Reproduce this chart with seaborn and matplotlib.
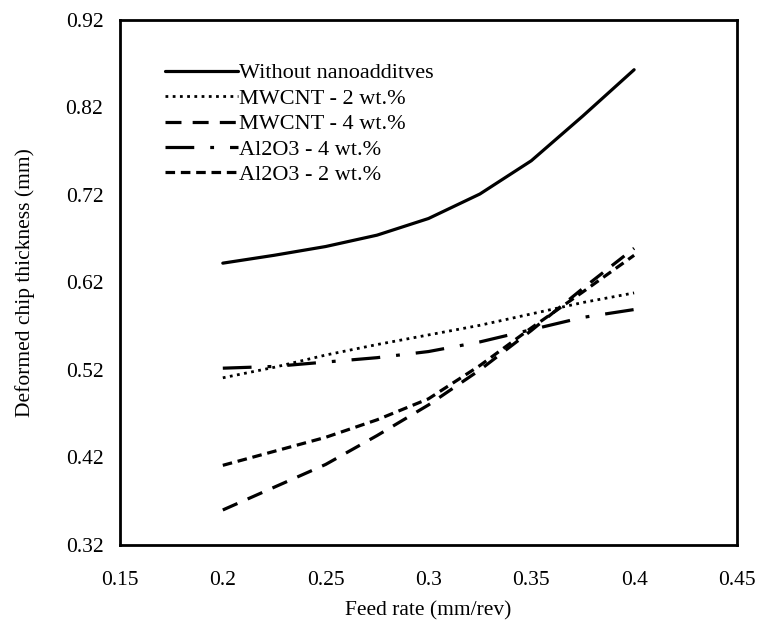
import matplotlib
matplotlib.use("Agg")
import matplotlib.pyplot as plt
import seaborn as sns

sns.set_theme(style="white")
plt.rcParams['font.family'] = ['Liberation Serif', 'DejaVu Serif']

feed = [0.2, 0.225, 0.25, 0.275, 0.3, 0.325, 0.35, 0.375, 0.4]
without = [0.642, 0.651, 0.661, 0.674, 0.693, 0.721, 0.759, 0.810, 0.863]
mwcnt2 = [0.511, 0.523, 0.537, 0.549, 0.560, 0.571, 0.584, 0.597, 0.608]
mwcnt4 = [0.360, 0.386, 0.412, 0.445, 0.480, 0.520, 0.565, 0.613, 0.659]
al2o3_4 = [0.522, 0.524, 0.529, 0.534, 0.541, 0.552, 0.566, 0.580, 0.589]
al2o3_2 = [0.411, 0.427, 0.443, 0.463, 0.487, 0.525, 0.568, 0.609, 0.651]

labels = ["Without nanoadditves", "MWCNT - 2 wt.%", "MWCNT - 4 wt.%",
          "Al2O3 - 4 wt.%", "Al2O3 - 2 wt.%"]

fig = plt.figure(figsize=(7.57, 6.2), dpi=100)
ax = fig.add_axes([0.1585, 0.121, 0.815, 0.847])

series = [
    (without, '-', 2.3),
    (mwcnt2, (0, (1, 1.6)), 2.0),
    (mwcnt4, (0, (5, 3.5)), 2.3),
    (al2o3_4, (0, (9, 5, 1.2, 5)), 2.3),
    (al2o3_2, (0, (3, 1.8)), 2.3),
]
for (ys, ls, lw), lab in zip(series, labels):
    sns.lineplot(x=feed, y=ys, ax=ax, color='black', linestyle=ls, linewidth=lw,
                 label=lab, sort=False)

ax.set_xlim(0.15, 0.45)
ax.set_ylim(0.32, 0.92)
ax.set_xticks([0.15, 0.2, 0.25, 0.3, 0.35, 0.4, 0.45])
ax.set_xticklabels(["0.15", "0.2", "0.25", "0.3", "0.35", "0.4", "0.45"])
ax.set_yticks([0.32, 0.42, 0.52, 0.62, 0.72, 0.82, 0.92])
ax.set_yticklabels(["0.32", "0.42", "0.52", "0.62", "0.72", "0.82", "0.92"])
ax.tick_params(direction='in', length=5, width=1.5, labelsize=15.5,
               colors='black')
ax.tick_params(axis='y', pad=12)
ax.tick_params(axis='x', pad=19)
for s in ax.spines.values():
    s.set_color('black')
    s.set_linewidth(2)
ax.set_xlabel("Feed rate (mm/rev)", fontsize=15.5, color='black', labelpad=8)
ax.set_ylabel("Deformed chip thickness (mm)", fontsize=15.5, color='black', labelpad=22)

leg = ax.legend(loc='upper left', bbox_to_anchor=(0.058, 0.935), frameon=False,
                fontsize=16, handlelength=3.3, handletextpad=0.05,
                labelspacing=0.22, borderaxespad=0)
for t in leg.get_texts():
    t.set_color('black')

fig.savefig("out.png", dpi=100)
